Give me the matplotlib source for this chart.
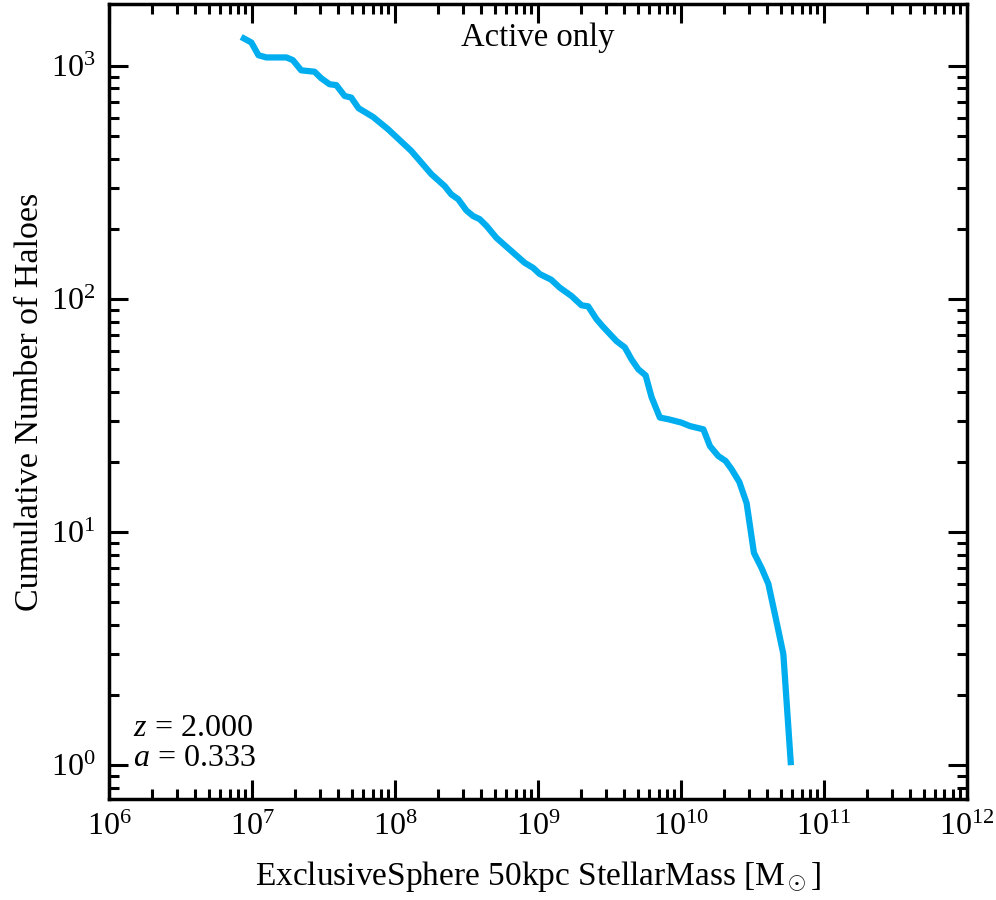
"""Cumulative number of active haloes against their 50 kpc stellar mass, z = 2."""
import matplotlib
matplotlib.use("Agg")
import matplotlib.pyplot as plt
import numpy as np

# stellar mass (Msun) and cumulative halo count
MASS = [8.4e6, 9.9e6, 1.11e7, 1.26e7, 1.74e7, 1.93e7, 2.21e7, 2.74e7, 3.05e7,
        3.49e7, 3.89e7, 4.45e7, 4.95e7, 5.57e7, 7.03e7, 8.95e7, 1.30e8, 1.80e8,
        2.23e8, 2.48e8, 2.77e8, 3.16e8, 3.52e8, 3.92e8, 4.37e8, 5.13e8, 6.35e8,
        8.09e8, 9.27e8, 1.03e9, 1.24e9, 1.42e9, 1.72e9, 2.02e9, 2.25e9, 2.57e9,
        2.86e9, 3.55e9, 4.06e9, 4.53e9, 5.04e9, 5.68e9, 6.24e9, 7.14e9, 8.17e9,
        1.01e10, 1.16e10, 1.44e10, 1.60e10, 1.83e10, 2.06e10, 2.27e10, 2.57e10,
        2.89e10, 3.25e10, 3.68e10, 4.10e10, 4.61e10, 5.22e10, 5.90e10]
COUNT = [1331, 1260, 1111, 1087, 1087, 1059, 957, 944, 885, 834, 827, 743,
         731, 658, 604, 535, 432, 343, 305, 281, 268, 240, 227, 220, 206, 183,
         163, 143, 136, 128, 121, 112, 103, 94, 93, 82, 76, 66, 62, 55, 50, 47,
         38, 31, 30.5, 29.5, 28.5, 27.6, 23.4, 21.2, 20.2, 18.6, 16.4, 13.3,
         8.15, 7.0, 6.0, 4.3, 3.0, 1.0]

LINE = "#00aeef"
FONT = "Liberation Serif"

plt.rcParams["font.family"] = FONT
plt.rcParams["mathtext.fontset"] = "custom"
plt.rcParams["mathtext.rm"] = FONT
plt.rcParams["mathtext.it"] = FONT + ":italic"
plt.rcParams["mathtext.bf"] = FONT + ":bold"

fig = plt.figure(figsize=(9.96, 9.0), dpi=100)
ax = fig.add_axes([0.1095, 0.112, 0.861, 0.884])

ax.plot(MASS, COUNT, color=LINE, lw=4.5, solid_capstyle="butt")
ax.set_xscale("log")
ax.set_yscale("log")
ax.set_xlim(1e6, 1e12)
ax.set_ylim(0.715, 1850)

for side in ax.spines.values():
    side.set_linewidth(2.5)
ax.tick_params(which="both", direction="in", top=True, right=True,
               width=2.2, labelsize=23, pad=10)
ax.tick_params(which="major", length=14)
ax.tick_params(which="minor", length=7)
ax.xaxis.set_minor_locator(matplotlib.ticker.LogLocator(
    base=10, subs=np.arange(2, 10), numticks=20))
ax.yaxis.set_minor_locator(matplotlib.ticker.LogLocator(
    base=10, subs=np.arange(2, 10), numticks=20))
ax.xaxis.set_minor_formatter(matplotlib.ticker.NullFormatter())
ax.yaxis.set_minor_formatter(matplotlib.ticker.NullFormatter())

ax.set_xlabel(r"ExclusiveSphere 50kpc StellarMass [M$_\odot$]", fontsize=24,
              labelpad=12)
ax.set_ylabel("Cumulative Number of Haloes", fontsize=24.5, labelpad=4)

ax.text(0.5, 0.976, "Active only", transform=ax.transAxes, ha="center",
        va="top", fontsize=23.5)
ax.text(0.028, 0.033, r"$z\/=\/2.000$" "\n" r"$a\/=\/0.333$",
        transform=ax.transAxes, ha="left", va="bottom", fontsize=23,
        linespacing=1.05)

fig.savefig("out.png", dpi=100)
